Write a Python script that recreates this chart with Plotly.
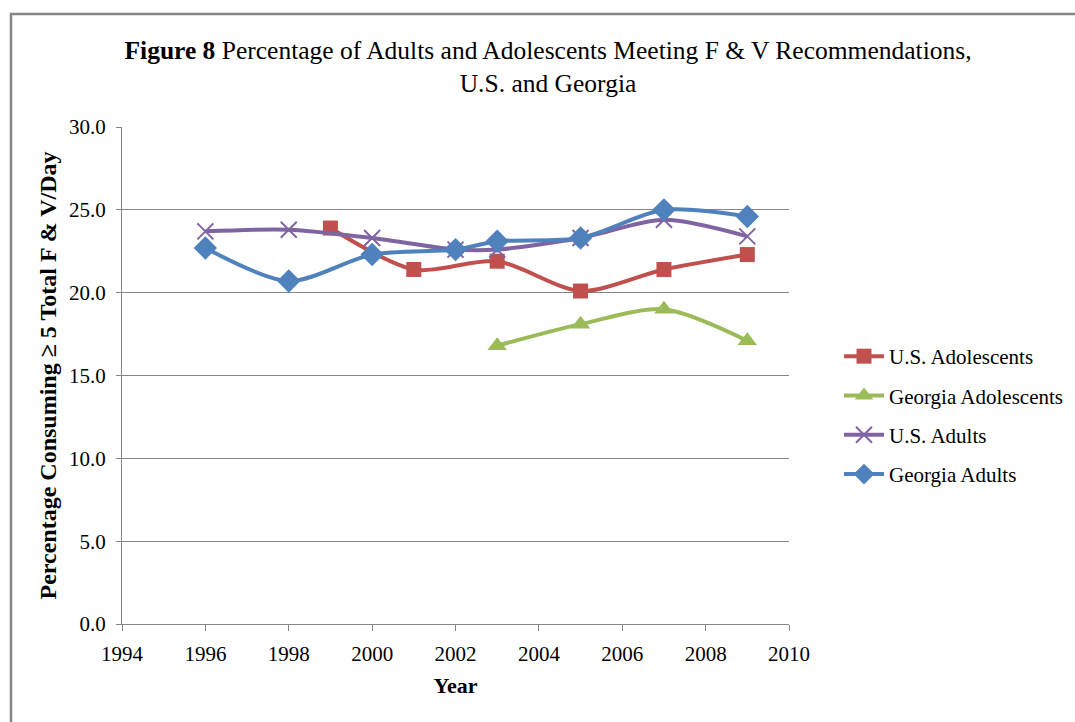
import plotly.graph_objects as go

# Data
us_adol_years = [1999, 2001, 2003, 2005, 2007, 2009]
us_adol_vals = [23.9, 21.4, 21.9, 20.1, 21.4, 22.3]

ga_adol_years = [2003, 2005, 2007, 2009]
ga_adol_vals = [16.8, 18.1, 19.0, 17.1]

us_adult_years = [1996, 1998, 2000, 2002, 2003, 2005, 2007, 2009]
us_adult_vals = [23.7, 23.8, 23.3, 22.6, 22.6, 23.3, 24.4, 23.4]

ga_adult_years = [1996, 1998, 2000, 2002, 2003, 2005, 2007, 2009]
ga_adult_vals = [22.7, 20.7, 22.3, 22.6, 23.1, 23.3, 25.0, 24.6]

x_ticks = list(range(1994, 2011, 2))
y_ticks = [0, 5, 10, 15, 20, 25, 30]

FONT = "Liberation Serif"

series = [
    ("U.S. Adolescents", us_adol_years, us_adol_vals, "#C0504D", dict(symbol="square", size=15)),
    ("Georgia Adolescents", ga_adol_years, ga_adol_vals, "#9BBB59", dict(symbol="triangle-up", size=17)),
    ("U.S. Adults", us_adult_years, us_adult_vals, "#8064A2", dict(symbol="x-thin-open", size=16, line=dict(width=2, color="#8064A2"))),
    ("Georgia Adults", ga_adult_years, ga_adult_vals, "#4F81BD", dict(symbol="diamond", size=18)),
]

fig = go.Figure()
for i, (name, xs, ys, color, marker) in enumerate(series):
    m = dict(color=color)
    m.update(marker)
    fig.add_trace(go.Scatter(
        x=xs, y=ys, name=name, mode="lines+markers",
        line=dict(color=color, width=4, shape="spline", smoothing=0.8),
        marker=m, legendgroup=f"g{i}",
    ))

L, R, T, B = 122, 286, 127, 98
W, H = 1075, 722
pw, ph = W - L - R, H - T - B

fig.update_layout(
    width=W, height=H,
    margin=dict(l=L, r=R, t=T, b=B, autoexpand=False),
    paper_bgcolor="white", plot_bgcolor="white",
    font=dict(family=FONT, size=21, color="black"),
    title=dict(
        text="<b>Figure 8</b> Percentage of Adults and Adolescents Meeting F &amp; V Recommendations,<br>U.S. and Georgia",
        x=548 / W, xanchor="center", y=1 - 59 / H, yanchor="top",
        font=dict(family=FONT, size=25.5, color="black"),
    ),
    showlegend=True,
    legend=dict(
        xref="container", yref="container",
        x=839 / W, xanchor="left", y=1 - 336 / H, yanchor="top",
        font=dict(family=FONT, size=21, color="black"),
        tracegroupgap=9, itemwidth=40, bgcolor="rgba(0,0,0,0)",
    ),
    xaxis=dict(
        range=[1994, 2010], tickvals=x_ticks, ticktext=[str(t) for t in x_ticks],
        showgrid=False, showline=True, linecolor="#868686", linewidth=1,
        ticks="outside", ticklen=6, tickcolor="#868686", ticklabelstandoff=5,
        tickfont=dict(family=FONT, size=21), zeroline=False,
        title=dict(text="<b>Year</b>", font=dict(family=FONT, size=22), standoff=12),
    ),
    yaxis=dict(
        range=[0, 30], tickvals=y_ticks, tickformat=".1f",
        showgrid=True, gridcolor="#868686", gridwidth=1,
        showline=True, linecolor="#868686", linewidth=1,
        ticks="outside", ticklen=5, tickcolor="#868686", ticklabelstandoff=6,
        tickfont=dict(family=FONT, size=21), zeroline=False,
        title=dict(text="<b>Percentage Consuming ≥ 5 Total F &amp; V/Day</b>", font=dict(family=FONT, size=24), standoff=5),
    ),
)

# outer chart-area border (partially cropped in the reference)
fig.add_shape(type="rect", xref="paper", yref="paper",
              x0=(11 - L) / pw, x1=(W + 20 - L) / pw,
              y0=(H - B - (H + 20)) / ph, y1=(H - B - 14) / ph,
              line=dict(color="#868686", width=2.5), fillcolor="rgba(0,0,0,0)", layer="below")

fig.write_html("out.html")
